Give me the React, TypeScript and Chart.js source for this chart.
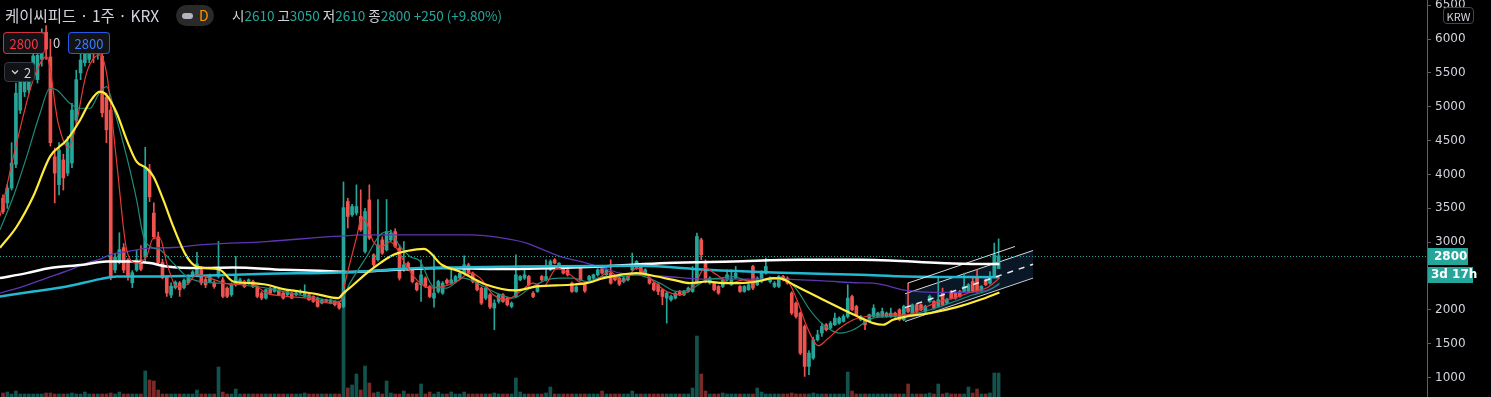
import React, { useEffect, useRef } from "react";
import { Chart, registerables } from "chart.js";

Chart.register(...registerables);

// ---- weekly candles (KRW) ----
const opens = [
  3650, 3580, 3800, 4150, 4950, 5220, 5250, 5450, 5400, 5700,
  6100, 5735, 4260, 3850, 4215, 4020, 4170, 4800, 5500, 5650,
  5700, 5900, 5780, 5745, 5140, 4950, 2590, 2700, 2920, 2740,
  2400, 2590, 2740, 2780, 4070, 3430, 3080, 2700, 2480, 2220,
  2330, 2400, 2330, 2400, 2500, 2520, 2590, 2450, 2420, 2400,
  2494, 2445, 2322, 2224, 2372, 2396, 2420, 2396, 2420, 2347,
  2249, 2175, 2322, 2273, 2298, 2249, 2224, 2249, 2224, 2249,
  2200, 2224, 2200, 2175, 2101, 2150, 2101, 2126, 2101, 2050,
  3600, 3404, 3430, 3380, 2863, 3625, 2814, 2741, 3035, 2888,
  3035, 3158, 2913, 2593, 2691, 2593, 2396, 2372, 2470, 2347,
  2175, 2273, 2249, 2440, 2396, 2420, 2470, 2544, 2667, 2544,
  2420, 2323, 2175, 2224, 2028, 2126, 2224, 2175, 2052, 2199,
  2445, 2470, 2494, 2249, 2273, 2494, 2445, 2593, 2741, 2642,
  2642, 2593, 2396, 2273, 2618, 2372, 2445, 2470, 2519, 2610,
  2519, 2544, 2494, 2470, 2420, 2445, 2593, 2618, 2642, 2519,
  2470, 2396, 2372, 2298, 2175, 2150, 2175, 2273, 2224, 2273,
  2273, 2396, 3036, 2716, 2396, 2396, 2347, 2347, 2445, 2372,
  2470, 2347, 2273, 2298, 2642, 2372, 2420, 2544, 2420, 2347,
  2347, 2494, 2470, 2249, 2100, 1954, 1757, 1167, 1290, 1560,
  1659, 1782, 1733, 1782, 1806, 1831, 1904, 2199, 2052, 1855,
  1855, 1831, 1904, 1904, 1904, 1904, 1904, 1954, 2003, 1855,
  2028, 1954, 2077, 2077, 1978, 2126, 2126, 2052, 2249, 2101,
  2273, 2249, 2273, 2273, 2273, 2420, 2470, 2273, 2445, 2396,
  2494, 2610,
];
const highs = [
  3700, 3850, 4470, 5350, 5640, 5500, 5600, 5900, 6000, 6150,
  6200, 6000, 4390, 4470, 4300, 4560, 5050, 5540, 5800, 5950,
  6000, 6050, 5950, 5950, 5200, 5000, 2830, 3140, 2980, 2760,
  2580, 2880, 2950, 4400, 4150, 3580, 3150, 2750, 2500, 2400,
  2430, 2420, 2460, 2520, 2580, 2850, 2640, 2500, 2530, 2430,
  3010, 2480, 2340, 2400, 2790, 2470, 2440, 2460, 2440, 2360,
  2270, 2310, 2340, 2340, 2310, 2260, 2290, 2260, 2270, 2300,
  2372, 2240, 2210, 2190, 2160, 2160, 2160, 2140, 2120, 3890,
  3650, 3560, 3847, 3773, 3500, 3847, 2830, 3630, 3080, 3630,
  3180, 3200, 2960, 3010, 2710, 2610, 2410, 2741, 2490, 2360,
  2814, 2440, 2420, 2460, 2593, 2510, 2560, 2800, 2690, 2560,
  2440, 2340, 2340, 2240, 2150, 2240, 2240, 2190, 2120, 2814,
  2510, 2618, 2510, 2270, 2380, 2510, 2741, 2740, 2760, 2700,
  2660, 2610, 2410, 2360, 2640, 2390, 2510, 2530, 2610, 2620,
  2610, 2741, 2510, 2490, 2490, 2510, 2840, 2730, 2660, 2610,
  2490, 2410, 2390, 2310, 2270, 2220, 2260, 2290, 2290, 2340,
  2642, 3134, 3060, 2740, 2490, 2410, 2360, 2460, 2593, 2593,
  2642, 2360, 2360, 2390, 2660, 2490, 2580, 2765, 2490, 2420,
  2510, 2510, 2490, 2270, 2120, 1970, 1780, 1400, 1600, 1700,
  1806, 1800, 1830, 1954, 1900, 1930, 2372, 2220, 2070, 1920,
  1870, 1940, 2077, 1970, 2028, 1970, 2028, 1970, 2020, 2070,
  2396, 2090, 2090, 2090, 2070, 2220, 2140, 2470, 2323, 2170,
  2290, 2260, 2290, 2544, 2390, 2494, 2593, 2360, 2460, 2568,
  2987, 3050,
];
const lows = [
  3420, 3500, 3770, 4100, 4900, 5150, 5200, 5400, 5350, 5600,
  5700, 4420, 3580, 3700, 3770, 3980, 4100, 4750, 5400, 5600,
  5650, 5650, 5700, 4850, 4470, 2445, 2550, 2680, 2550, 2440,
  2330, 2570, 2580, 2700, 3600, 3050, 2680, 2460, 2200, 2180,
  2310, 2200, 2310, 2380, 2480, 2500, 2370, 2330, 2400, 2320,
  2470, 2180, 2180, 2200, 2350, 2380, 2330, 2380, 2330, 2180,
  2150, 2160, 2230, 2260, 2210, 2160, 2210, 2165, 2210, 2230,
  2190, 2140, 2110, 2040, 2090, 2110, 2090, 2060, 2010, 2030,
  3210, 3380, 3400, 3160, 2840, 3040, 2640, 2720, 2820, 2870,
  3020, 2920, 2440, 2570, 2580, 2400, 2280, 2126, 2330, 2180,
  2042, 2250, 2230, 2380, 2380, 2400, 2450, 2530, 2520, 2400,
  2280, 2080, 2150, 2020, 1708, 2100, 2110, 2060, 2030, 2180,
  2430, 2450, 2350, 2180, 2260, 2430, 2430, 2580, 2680, 2630,
  2530, 2500, 2260, 2260, 2430, 2260, 2430, 2460, 2500, 2530,
  2510, 2380, 2430, 2360, 2400, 2430, 2580, 2600, 2530, 2500,
  2380, 2280, 2224, 2077, 1806, 2130, 2160, 2210, 2210, 2260,
  2260, 2380, 2741, 2400, 2380, 2280, 2230, 2330, 2430, 2360,
  2460, 2260, 2260, 2290, 2300, 2360, 2400, 2530, 2400, 2330,
  2330, 2430, 2380, 1930, 1880, 1340, 1019, 1044, 1270, 1540,
  1610, 1690, 1720, 1770, 1790, 1820, 1880, 1990, 1910, 1840,
  1708, 1820, 1890, 1890, 1890, 1890, 1890, 1890, 1840, 1840,
  1960, 1940, 1960, 1990, 1960, 2110, 2010, 2040, 2060, 2090,
  2160, 2160, 2190, 2260, 2260, 2260, 2260, 2260, 2360, 2380,
  2480, 2610,
];
const closes = [
  3450, 3800, 4170, 5200, 5400, 5370, 5500, 5750, 5760, 6100,
  5850, 4470, 4020, 4360, 3950, 4470, 4950, 5400, 5690, 5840,
  5850, 5780, 5880, 4910, 4660, 2490, 2780, 2890, 2590, 2490,
  2550, 2740, 2600, 4110, 3670, 3080, 2700, 2480, 2250, 2350,
  2410, 2300, 2440, 2500, 2560, 2680, 2400, 2370, 2494, 2347,
  2617, 2200, 2200, 2372, 2494, 2445, 2347, 2445, 2347, 2200,
  2175, 2298, 2249, 2322, 2224, 2175, 2273, 2175, 2249, 2273,
  2249, 2150, 2126, 2052, 2150, 2126, 2150, 2077, 2028, 3510,
  3380, 3527, 3527, 3183, 3453, 3060, 2667, 2962, 2839, 3158,
  3134, 2937, 2470, 2667, 2593, 2420, 2298, 2519, 2347, 2199,
  2249, 2420, 2396, 2396, 2445, 2494, 2544, 2667, 2544, 2420,
  2298, 2101, 2323, 2042, 2101, 2224, 2126, 2077, 2101, 2519,
  2494, 2519, 2372, 2199, 2360, 2445, 2494, 2716, 2692, 2690,
  2544, 2519, 2273, 2340, 2445, 2280, 2494, 2519, 2593, 2544,
  2593, 2396, 2445, 2380, 2470, 2494, 2642, 2716, 2544, 2593,
  2396, 2298, 2273, 2199, 2249, 2199, 2249, 2224, 2273, 2323,
  2372, 3085, 2814, 2420, 2470, 2298, 2249, 2445, 2519, 2470,
  2544, 2273, 2347, 2372, 2323, 2470, 2560, 2642, 2470, 2396,
  2494, 2445, 2396, 1954, 1904, 1364, 1167, 1364, 1560, 1634,
  1757, 1708, 1806, 1880, 1880, 1904, 2175, 2003, 1929, 1904,
  1782, 1929, 2028, 1954, 1978, 1954, 1954, 1904, 1855, 2052,
  1978, 2077, 1978, 2003, 2052, 2199, 2028, 2150, 2077, 2150,
  2175, 2175, 2199, 2347, 2372, 2273, 2273, 2347, 2372, 2494,
  2814, 2800,
];
const volumes = [
  4, 5, 3, 6, 3, 3, 3, 3, 3, 3,
  4, 4, 3, 3, 3, 3, 4, 3, 3, 5,
  3, 3, 3, 3, 3, 4, 3, 5, 3, 3,
  3, 3, 3, 26, 17, 16, 7, 3, 3, 3,
  3, 3, 3, 3, 3, 7, 3, 3, 3, 3,
  30, 5, 3, 3, 8, 3, 3, 3, 3, 3,
  3, 3, 3, 3, 3, 3, 3, 3, 3, 3,
  4, 3, 3, 3, 3, 3, 3, 3, 3, 100,
  9, 12, 23, 7, 31, 14, 4, 5, 3, 16,
  4, 3, 3, 6, 3, 3, 3, 13, 3, 5,
  3, 5, 3, 3, 5, 3, 3, 5, 3, 3,
  3, 3, 3, 3, 4, 3, 3, 3, 3, 19,
  5, 3, 3, 3, 3, 3, 4, 10, 3, 3,
  3, 3, 3, 3, 3, 3, 3, 3, 3, 6,
  3, 3, 3, 3, 3, 3, 6, 3, 3, 3,
  3, 3, 3, 3, 3, 3, 3, 3, 3, 3,
  9, 61, 23, 6, 3, 3, 3, 4, 3, 3,
  3, 3, 3, 3, 3, 9, 5, 3, 3, 3,
  3, 3, 3, 4, 3, 3, 3, 3, 4, 3,
  3, 3, 3, 3, 3, 3, 25, 6, 3, 3,
  3, 3, 3, 3, 3, 3, 3, 3, 3, 3,
  13, 3, 3, 3, 3, 4, 3, 13, 3, 4,
  3, 3, 3, 3, 10, 4, 8, 3, 3, 4,
  24, 24,
];

const priceTicks = [1000, 1500, 2000, 2500, 3000, 3500, 4000, 4500, 5000, 5500, 6000, 6500];
const countdownLabel = "3d 17h";

// ---- moving averages, read at knots (bar index, price) ----
const ma5Idx = [-0.7, 3.9, 7, 10.1, 12.8, 15.2, 16.7, 19.4, 22.5, 24.1, 26.4, 28.7, 31, 33.3, 34.9, 36.4, 38, 40.3, 42.6, 44.9, 50.3, 53.4, 57.3, 61.2, 65.8, 70.5, 75.9, 78.2, 79.7, 82.1, 83.2, 84.4, 85.9, 87.9, 89.8, 91.3, 93.7, 96, 99.1, 102.2, 105.3, 108.4, 110.7, 113.8, 116.9, 120, 123, 125.4, 128.5, 131.6, 134.6, 137.7, 140.8, 143.9, 147, 150.9, 154, 157.1, 160.2, 162.9, 165.6, 168.7, 171.8, 174.9, 178.7, 181.8, 184.2, 186.5, 189.2, 191.1, 194.2, 197.3, 200.4, 205.8, 209.7, 213.5, 217.4, 221.3, 225.1, 228.2, 231.2];
const ma5Val = [3380, 4658, 5395, 5740, 4760, 4392, 4658, 5500, 5765, 5470, 4166, 2888, 2692, 2790, 3060, 3060, 2692, 2347, 2372, 2519, 2420, 2372, 2396, 2249, 2200, 2175, 2101, 2126, 2494, 3090, 3355, 3282, 3010, 2937, 3010, 2913, 2642, 2445, 2323, 2347, 2420, 2544, 2470, 2224, 2150, 2273, 2396, 2347, 2618, 2519, 2396, 2445, 2568, 2420, 2618, 2420, 2273, 2224, 2347, 2618, 2519, 2396, 2445, 2420, 2470, 2445, 2150, 1757, 1472, 1560, 1733, 1855, 1904, 1929, 1929, 2028, 2126, 2190, 2273, 2323, 2470];

const ma10Idx = [-0.7, 2.4, 5.5, 8.6, 10.9, 12.5, 15.5, 17.9, 20.2, 22.1, 24, 26, 28.7, 31, 32.6, 34.1, 36.4, 39.5, 42.6, 45.7, 50.3, 55, 61.2, 67.4, 72.8, 78.2, 80.5, 84.4, 87.9, 89.8, 92.1, 94.4, 96.8, 99.8, 102.9, 106.8, 110.7, 114.5, 118.4, 122.3, 126.1, 129.2, 132.3, 135.4, 139.3, 143.2, 147, 152.4, 156.3, 159.4, 163.3, 166.4, 169.4, 173.3, 177.2, 181, 184.2, 187.2, 190.3, 194.2, 197.3, 201.9, 206.6, 210.4, 215.1, 219.7, 225.1, 229, 231.2];
const ma10Val = [3183, 3674, 4264, 4904, 5273, 5248, 5052, 4978, 4978, 5174, 5298, 4904, 4264, 3625, 3085, 2937, 2888, 2692, 2494, 2420, 2396, 2372, 2322, 2239, 2175, 2126, 2396, 2790, 3134, 3158, 2937, 2790, 2716, 2347, 2323, 2470, 2372, 2249, 2175, 2323, 2445, 2470, 2470, 2420, 2494, 2494, 2519, 2396, 2273, 2298, 2445, 2470, 2494, 2420, 2445, 2470, 2298, 2003, 1782, 1659, 1708, 1880, 1904, 1929, 2003, 2101, 2224, 2298, 2396];

const ma20Idx = [-0.7, 3.2, 7, 10.9, 14.8, 17.9, 20.2, 22.5, 24, 26.4, 28.7, 31, 33.3, 34.9, 37.2, 39.5, 42.6, 44.9, 50.3, 53.4, 57.3, 61.2, 65, 68.9, 72.8, 77.8, 79, 81.3, 84.4, 87.5, 90.6, 93.7, 97.7, 101.8, 106, 112.2, 118.8, 123.8, 131.6, 135.4, 139.3, 143.2, 147, 151.7, 155.5, 159.4, 163.3, 167.1, 171, 174.9, 178.7, 181, 183.4, 186.5, 190.3, 194.2, 198.8, 201.9, 204.2, 206.5, 209.7, 215.1, 221.3, 226.7, 231.2];
const ma20Val = [2917, 3232, 3674, 4264, 4510, 4805, 5076, 5223, 5174, 4904, 4510, 4190, 4093, 3970, 3625, 3232, 2790, 2642, 2593, 2420, 2396, 2372, 2308, 2273, 2234, 2175, 2249, 2372, 2544, 2692, 2814, 2870, 2903, 2667, 2568, 2372, 2288, 2347, 2372, 2396, 2470, 2519, 2544, 2494, 2445, 2396, 2420, 2396, 2396, 2420, 2470, 2455, 2372, 2273, 2150, 2028, 1890, 1806, 1782, 1855, 1904, 1954, 2042, 2150, 2259];

const ma60Idx = [-0.7, 4.7, 10.1, 15.5, 19.4, 22.5, 24.8, 28.7, 34.1, 39.5, 45.7, 61.2, 76.6, 84.4, 96.8, 108.4, 116.1, 121.5, 125.4, 129.2, 133.9, 139.3, 143.2, 147.4, 154, 163.3, 178.7, 190.3, 198.8, 201.9, 209.7, 215.9, 223.6, 228.2, 231.2];
const ma60Val = [2249, 2347, 2470, 2593, 2692, 2750, 2814, 2863, 2913, 2922, 2962, 3010, 3085, 3109, 3109, 3109, 3060, 2987, 2888, 2790, 2716, 2618, 2544, 2519, 2494, 2455, 2455, 2430, 2400, 2396, 2288, 2259, 2259, 2288, 2372];

const ma120Idx = [-0.7, 5.5, 10.9, 18.6, 24, 30.2, 34.1, 38, 45.7, 53.4, 65, 73.5, 80, 90, 102.2, 115.3, 138.5, 154, 169.4, 184.9, 198.8, 205.8, 217.4, 226.7, 231.2];
const ma120Val = [2470, 2544, 2618, 2667, 2716, 2716, 2692, 2643, 2618, 2627, 2593, 2578, 2560, 2590, 2618, 2603, 2642, 2692, 2716, 2741, 2741, 2731, 2692, 2677, 2677];

const ma240Idx = [-0.7, 7, 14.8, 22.5, 26.4, 34.1, 45.7, 61.2, 78.2, 92.1, 96.8, 120, 147.8, 163.3, 178.7, 198.8, 209.7, 231.2];
const ma240Val = [2200, 2273, 2347, 2455, 2494, 2494, 2504, 2534, 2554, 2603, 2618, 2642, 2652, 2593, 2554, 2519, 2494, 2484];

// ---- regression channel drawing ----
const chanIdx = [209.3, 239];
const chanUpper = [2239, 2878];
const chanMid = [2034, 2675];
const chanLower = [1830, 2471];
const chanOuterIdx = [210, 234.8];
const chanOuter = [2397, 2937];

const UP = "#26a69a";
const DOWN = "#ef5350";

function pts(idx: number[], val: number[]) {
  return idx.map((x, k) => ({ x, y: val[k] }));
}

export default function App() {
  const ref = useRef<HTMLCanvasElement | null>(null);

  useEffect(() => {
    if (!ref.current) return;
    const n = opens.length;
    const isUp = closes.map((c, i) => c >= opens[i]);
    const candleColors = isUp.map((u) => (u ? UP : DOWN));
    const volColors = isUp.map((u) => (u ? "rgba(38,166,154,0.5)" : "rgba(239,83,80,0.5)"));
    const lastClose = closes[n - 1];

    const line = (label: string, idx: number[], val: number[], color: string, width: number, order: number, extra: any = {}) => ({
      type: "line",
      label,
      data: pts(idx, val),
      borderColor: color,
      borderWidth: width,
      pointRadius: 0,
      cubicInterpolationMode: "monotone",
      fill: false,
      yAxisID: "y",
      order,
      ...extra,
    });

    const datasets: any[] = [
      {
        type: "bar",
        label: "volume",
        data: volumes.map((v, i) => ({ x: i, y: v })),
        backgroundColor: volColors,
        barThickness: 3,
        grouped: false,
        yAxisID: "y2",
        order: 30,
      },
      line("chanUpper", chanIdx, chanUpper, "rgba(255,255,255,0.85)", 1, 25, {
        fill: "+1",
        backgroundColor: "rgba(41,98,160,0.24)",
        cubicInterpolationMode: "default",
        tension: 0,
      }),
      line("chanLower", chanIdx, chanLower, "rgba(255,255,255,0.85)", 1, 25, { tension: 0, cubicInterpolationMode: "default" }),
      {
        type: "bar",
        label: "wick",
        data: lows.map((l, i) => ({ x: i, y: [l, highs[i]] })),
        backgroundColor: candleColors,
        barThickness: 1,
        grouped: false,
        yAxisID: "y",
        order: 21,
      },
      {
        type: "bar",
        label: "body",
        data: opens.map((o, i) => ({ x: i, y: [o, closes[i]] })),
        backgroundColor: candleColors,
        barThickness: 3,
        minBarLength: 1,
        grouped: false,
        yAxisID: "y",
        order: 20,
      },
      line("MA60", ma60Idx, ma60Val, "#5e35b1", 1.3, 9),
      line("MA120", ma120Idx, ma120Val, "#ffffff", 2.5, 8),
      line("MA240", ma240Idx, ma240Val, "#22b8cf", 2.5, 7),
      line("MA10", ma10Idx, ma10Val, "#1e8c78", 1.2, 6),
      line("MA5", ma5Idx, ma5Val, "#e53935", 1.2, 5),
      line("MA20", ma20Idx, ma20Val, "#ffeb3b", 2.2, 4),
      line("chanMid", chanIdx, chanMid, "rgba(255,255,255,0.9)", 1.5, 1, { borderDash: [6, 6], tension: 0, cubicInterpolationMode: "default" }),
      line("chanOuter", chanOuterIdx, chanOuter, "rgba(255,255,255,0.85)", 1, 1, { tension: 0, cubicInterpolationMode: "default" }),
    ];

    const lastPricePlugin = {
      id: "lastPrice",
      afterDraw(chart: any) {
        const { ctx, chartArea, scales } = chart;
        const y = Math.round(scales.y.getPixelForValue(lastClose)) + 0.5;
        ctx.save();
        ctx.strokeStyle = UP;
        ctx.lineWidth = 1;
        ctx.setLineDash([1, 2]);
        ctx.beginPath();
        ctx.moveTo(chartArea.left, y);
        ctx.lineTo(chartArea.right, y);
        ctx.stroke();
        ctx.setLineDash([]);
        const x0 = chartArea.right + 1;
        ctx.fillStyle = UP;
        ctx.fillRect(x0, y - 8.5, 40, 17);
        ctx.fillRect(x0, y + 10.5, 45, 16);
        ctx.fillStyle = "#ffffff";
        ctx.font = 'bold 12px "DejaVu Sans"';
        ctx.textBaseline = "middle";
        ctx.textAlign = "left";
        ctx.fillText(String(lastClose), x0 + 6, y + 0.5);
        ctx.fillText(countdownLabel, x0 + 3, y + 18.5);
        ctx.restore();
      },
    };

    const chart = new Chart(ref.current, {
      type: "bar",
      data: { datasets },
      options: {
        animation: false,
        responsive: false,
        maintainAspectRatio: false,
        events: [],
        layout: { padding: 0 },
        plugins: { legend: { display: false }, tooltip: { enabled: false } },
        scales: {
          x: {
            type: "linear",
            min: -0.696,
            max: 330.4,
            offset: false,
            display: false,
          },
          y: {
            type: "linear",
            position: "right",
            min: 715,
            max: 6576,
            grid: { drawOnChartArea: false, drawTicks: true, tickLength: 4, color: "#5d606b" },
            border: { display: true, color: "#5d606b" },
            ticks: {
              color: "#d1d4dc",
              font: { family: "DejaVu Sans", size: 12 },
              padding: 4,
              callback: (v: any) => String(v),
            },
            afterBuildTicks: (s: any) => {
              s.ticks = priceTicks.map((v) => ({ value: v }));
            },
            afterFit: (s: any) => {
              s.width = 64;
              s.paddingTop = 0;
              s.paddingBottom = 0;
            },
          },
          y2: { type: "linear", display: false, min: 0, max: 397 },
        },
      } as any,
      plugins: [lastPricePlugin],
    } as any);
    return () => chart.destroy();
  }, []);

  const kr = '"Noto Sans CJK KR", "Noto Sans", sans-serif';
  const boxBase: React.CSSProperties = {
    position: "absolute",
    boxSizing: "border-box",
    borderRadius: 4,
    background: "#121317",
    display: "flex",
    alignItems: "center",
    justifyContent: "center",
    fontFamily: kr,
    fontSize: 13,
  };

  return (
    <div style={{ position: "fixed", left: 0, top: 0, width: 1491, height: 397, background: "#000", overflow: "hidden" }}>
      <canvas ref={ref} width={1491} height={397} style={{ position: "absolute", left: 0, top: 0, width: 1491, height: 397 }} />
      <div style={{ position: "absolute", left: 5, top: 4, fontFamily: kr, fontSize: 15.5, lineHeight: "22px", color: "#d1d4dc", whiteSpace: "nowrap" }}>
        케이씨피드 · 1주 · KRX
      </div>
      <div style={{ position: "absolute", left: 176, top: 5, width: 38, height: 21, borderRadius: 11, background: "#2a2a2a" }}>
        <div style={{ position: "absolute", left: 6, top: 7.5, width: 11, height: 6, borderRadius: 3, background: "#b2b5be" }} />
        <div style={{ position: "absolute", left: 23, top: 0, lineHeight: "21px", fontFamily: kr, fontSize: 14, color: "#ff9800" }}>D</div>
      </div>
      <div style={{ position: "absolute", left: 232, top: 5, fontFamily: kr, fontSize: 13.5, lineHeight: "21px", color: "#d1d4dc", whiteSpace: "nowrap" }}>
        시<span style={{ color: UP }}>2610</span> 고<span style={{ color: UP }}>3050</span> 저<span style={{ color: UP }}>2610</span> 종<span style={{ color: UP }}>2800</span>{" "}
        <span style={{ color: UP }}>+250 (+9.80%)</span>
      </div>
      <div style={{ ...boxBase, left: 3, top: 32, width: 42, height: 22, border: "1px solid rgba(242,54,69,0.85)", color: "#f23645" }}>2800</div>
      <div style={{ position: "absolute", left: 53, top: 32, height: 22, lineHeight: "22px", fontFamily: kr, fontSize: 13, color: "#d1d4dc" }}>0</div>
      <div style={{ ...boxBase, left: 68, top: 32, width: 42, height: 22, border: "1px solid rgba(41,98,255,0.9)", color: "#3d7bff" }}>2800</div>
      <div style={{ ...boxBase, left: 4, top: 62, width: 31, height: 20, border: "1px solid #363a45", color: "#d1d4dc", justifyContent: "flex-start", paddingLeft: 6 }}>
        <svg width="8" height="6" viewBox="0 0 8 6" style={{ marginRight: 5 }}>
          <polyline points="1,1.5 4,4.5 7,1.5" fill="none" stroke="#d1d4dc" strokeWidth="1.3" />
        </svg>
        <span>2</span>
      </div>
      <div style={{ ...boxBase, left: 1443, top: 7, width: 31, height: 17, border: "1px solid #434651", background: "#000", color: "#d1d4dc", fontSize: 11 }}>KRW</div>
    </div>
  );
}
